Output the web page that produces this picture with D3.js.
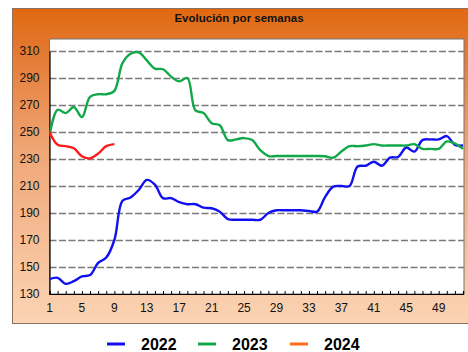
<!DOCTYPE html>
<html>
<head>
<meta charset="utf-8">
<script src="https://cdn.jsdelivr.net/npm/d3@7"></script>
<style>
  html, body { margin: 0; padding: 0; background: #fff; }
  svg { display: block; font-family: Arial, "Liberation Sans", sans-serif; }
</style>
</head>
<body>
<svg id="chart" width="468" height="352"></svg>
<script>
// Weekly price series
const weeks2022 = d3.range(1, 53);
const values2022 = [141, 142, 137.5, 139.5, 143, 144, 153, 157, 170, 199, 201.5, 207, 214.5, 211,
  201, 201, 198, 196.5, 196.5, 194, 193.5, 191, 185.5, 185, 185, 185, 185, 190, 192, 192,
  192, 192, 191.5, 191, 202, 209.5, 210, 210, 224.5, 225, 228, 225, 231, 231.5, 238.5, 235.5,
  244, 244.5, 244.5, 247, 240.5, 240];
const weeks2023 = d3.range(1, 53);
const values2023 = [247, 266.5, 264, 268.5, 261, 276, 278, 278, 280.5, 301, 308, 309, 303, 297,
  296.5, 291, 287.5, 290, 266, 264, 256.5, 255, 244, 244.5, 245.5, 244, 236.5, 232.2, 232.2, 232.2,
  232.2, 232.2, 232.2, 232.2, 232, 231, 235.5, 239.5, 239.5, 240, 241, 240, 240, 240, 240, 241,
  237.5, 237.5, 237.5, 243, 241.5, 237.5];
const weeks2024 = d3.range(1, 10);
const values2024 = [250, 240.5, 239.5, 238, 232, 230.5, 234, 239.5, 241];

const seriesNames = ["2022", "2023", "2024"];
const lineColors = ["#1010f0", "#12a84a", "#ff1a1a"];
const legendColors = ["#1010f0", "#12a84a", "#ff6a1a"];

const yTicks = [130, 150, 170, 190, 210, 230, 250, 270, 290, 310];
const xTickLabels = [1, 5, 9, 13, 17, 21, 25, 29, 33, 37, 41, 45, 49];
const title = "Evolución por semanas";

const svg = d3.select("#chart");

// Panel background gradient
const defs = svg.append("defs");
const grad = defs.append("linearGradient").attr("id", "panelGrad")
  .attr("x1", 0).attr("y1", 0).attr("x2", 0).attr("y2", 1);
grad.append("stop").attr("offset", "0%").attr("stop-color", "#e2680f");
grad.append("stop").attr("offset", "12%").attr("stop-color", "#e3772e");
grad.append("stop").attr("offset", "45%").attr("stop-color", "#f0a676");
grad.append("stop").attr("offset", "100%").attr("stop-color", "#fbd4b4");

svg.append("rect")
  .attr("x", 12.5).attr("y", 8.5).attr("width", 460).attr("height", 315)
  .attr("fill", "url(#panelGrad)")
  .attr("stroke", "#8a7060").attr("stroke-width", 1);

svg.append("text")
  .attr("x", 239).attr("y", 22)
  .attr("text-anchor", "middle")
  .attr("font-size", 11.5).attr("font-weight", "bold").attr("fill", "#111")
  .text(title);

// Plot area
const plot = { left: 49.5, right: 464, top: 39, bottom: 294 };
const x = d3.scaleLinear().domain([1, 52]).range([plot.left, 463]);
const y = d3.scaleLinear().domain([130, 310]).range([plot.bottom, 51]);

svg.append("rect")
  .attr("x", plot.left).attr("y", plot.top)
  .attr("width", plot.right - plot.left).attr("height", plot.bottom - plot.top)
  .attr("fill", "#fff").attr("stroke", "#777").attr("stroke-width", 1);

// Dashed horizontal gridlines
svg.append("g")
  .selectAll("line")
  .data(yTicks.filter(d => d > 130))
  .join("line")
  .attr("x1", plot.left).attr("x2", plot.right)
  .attr("y1", d => Math.round(y(d)) + 0.5).attr("y2", d => Math.round(y(d)) + 0.5)
  .attr("stroke", "#7a7a7a").attr("stroke-width", 1.6)
  .attr("stroke-dasharray", "7,2.5");

// Y axis
const yAxis = svg.append("g")
  .attr("transform", `translate(${plot.left},0)`)
  .call(d3.axisLeft(y).tickValues(yTicks).tickSize(0).tickPadding(10));
yAxis.select(".domain").attr("stroke", "#000").attr("stroke-width", 1.2);
yAxis.selectAll("text").attr("font-size", 12).attr("fill", "#111")
  .attr("font-family", "Arial, 'Liberation Sans', sans-serif");

// X axis: a minor tick per week pointing into the plot, labels every 4 weeks
const xAxis = svg.append("g")
  .attr("transform", `translate(0,${plot.bottom})`)
  .call(d3.axisBottom(x).tickValues(d3.range(1, 53)).tickSize(-3).tickFormat(""));
xAxis.select(".domain").attr("stroke", "#000").attr("stroke-width", 1.2);
xAxis.selectAll(".tick line").attr("stroke", "#000");

svg.append("g")
  .selectAll("text")
  .data(xTickLabels)
  .join("text")
  .attr("x", d => x(d)).attr("y", plot.bottom + 18)
  .attr("text-anchor", "middle")
  .attr("font-size", 12).attr("fill", "#111")
  .text(d => d);

// Series lines
const line = d3.line()
  .x(d => x(d[0])).y(d => y(d[1]))
  .curve(d3.curveCatmullRom.alpha(0.5));

const seriesData = [
  d3.zip(weeks2022, values2022),
  d3.zip(weeks2023, values2023),
  d3.zip(weeks2024, values2024)
];

const clip = defs.append("clipPath").attr("id", "plotClip");
clip.append("rect").attr("x", plot.left).attr("y", plot.top)
  .attr("width", plot.right - plot.left + 2).attr("height", plot.bottom - plot.top);

svg.append("g").attr("clip-path", "url(#plotClip)")
  .selectAll("path")
  .data(seriesData)
  .join("path")
  .attr("d", line)
  .attr("fill", "none")
  .attr("stroke", (d, i) => lineColors[i])
  .attr("stroke-width", 2.4)
  .attr("stroke-linejoin", "round");

// Legend
const legendX = [107, 198, 290];
const legend = svg.append("g");
seriesNames.forEach((name, i) => {
  legend.append("line")
    .attr("x1", legendX[i]).attr("x2", legendX[i] + 18)
    .attr("y1", 344).attr("y2", 344)
    .attr("stroke", legendColors[i]).attr("stroke-width", 3);
  legend.append("text")
    .attr("x", legendX[i] + 34).attr("y", 350)
    .attr("font-size", 16).attr("font-weight", "bold").attr("fill", "#000")
    .text(name);
});
</script>
</body>
</html>
